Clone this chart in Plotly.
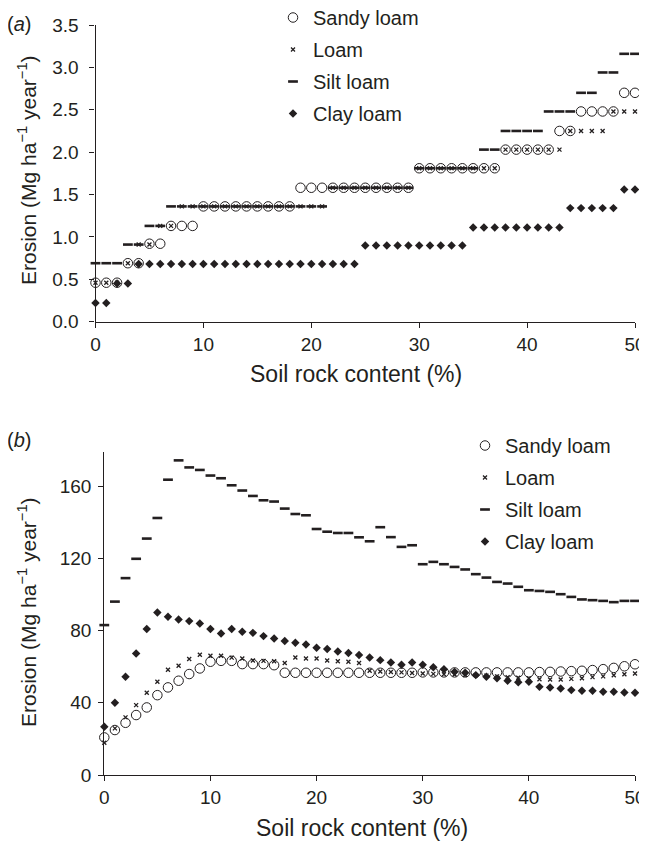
import plotly.graph_objects as go

# The page body has an 8px margin, so the figure is sized to the visible area
W, H = 639, 835
OFF = 8
INK = "#231f20"
FONT = "Liberation Sans, Arial, Helvetica, sans-serif"

rock = [0, 1, 2, 3, 4, 5, 6, 7, 8, 9, 10, 11, 12, 13, 14, 15, 16, 17, 18, 19, 20,
        21, 22, 23, 24, 25, 26, 27, 28, 29, 30, 31, 32, 33, 34, 35, 36, 37, 38, 39, 40,
        41, 42, 43, 44, 45, 46, 47, 48, 49, 50]

series_names = ["Sandy loam", "Loam", "Silt loam", "Clay loam"]

# Panel (a)
sandy_a = [0.46, 0.46, 0.46, 0.69, 0.69, 0.92, 0.92, 1.13, 1.13, 1.13,
           1.36, 1.36, 1.36, 1.36, 1.36, 1.36, 1.36, 1.36, 1.36, 1.58,
           1.58, 1.58, 1.58, 1.58, 1.58, 1.58, 1.58, 1.58, 1.58, 1.58,
           1.81, 1.81, 1.81, 1.81, 1.81, 1.81, 1.81, 1.81, 2.03, 2.03,
           2.03, 2.03, 2.03, 2.25, 2.25, 2.48, 2.48, 2.48, 2.48, 2.70, 2.70]
loam_a = [0.46, 0.46, 0.46, 0.69, 0.91, 0.91, 1.13, 1.13, 1.36, 1.36,
          1.36, 1.36, 1.36, 1.36, 1.36, 1.36, 1.36, 1.36, 1.36, 1.36,
          1.36, 1.36, 1.58, 1.58, 1.58, 1.58, 1.58, 1.58, 1.58, 1.58,
          1.81, 1.81, 1.81, 1.81, 1.81, 1.81, 1.81, 1.81, 2.03, 2.03,
          2.03, 2.03, 2.03, 2.03, 2.25, 2.25, 2.25, 2.25, 2.48, 2.48, 2.48]
silt_a = [0.69, 0.69, 0.69, 0.91, 0.91, 1.13, 1.13, 1.36, 1.36, 1.36,
          1.36, 1.36, 1.36, 1.36, 1.36, 1.36, 1.36, 1.36, 1.36, 1.36,
          1.36, 1.36, 1.58, 1.58, 1.58, 1.58, 1.58, 1.58, 1.58, 1.58,
          1.81, 1.81, 1.81, 1.81, 1.81, 1.81, 2.03, 2.03, 2.25, 2.25,
          2.25, 2.25, 2.48, 2.48, 2.48, 2.70, 2.70, 2.94, 2.94, 3.16, 3.16]
clay_a = [0.22, 0.22, 0.45, 0.45, 0.68, 0.68, 0.68, 0.68, 0.68, 0.68,
          0.68, 0.68, 0.68, 0.68, 0.68, 0.68, 0.68, 0.68, 0.68, 0.68,
          0.68, 0.68, 0.68, 0.68, 0.68, 0.90, 0.90, 0.90, 0.90, 0.90,
          0.90, 0.90, 0.90, 0.90, 0.90, 1.11, 1.11, 1.11, 1.11, 1.11,
          1.11, 1.11, 1.11, 1.11, 1.34, 1.34, 1.34, 1.34, 1.34, 1.56, 1.56]

# Panel (b)
sandy_b = [20.8, 24.9, 28.9, 33.2, 37.4, 44.2, 48.5, 52.2, 55.9, 59.0,
           62.7, 63.2, 63.2, 61.4, 61.4, 61.4, 60.8, 56.6, 56.6, 56.6,
           56.6, 56.6, 56.6, 56.6, 56.6, 56.6, 56.6, 56.6, 56.6, 56.6,
           56.8, 56.8, 56.8, 56.8, 56.8, 56.8, 56.8, 56.8, 56.8, 56.8,
           56.8, 57.0, 57.1, 57.3, 57.5, 57.7, 58.1, 58.6, 59.3, 60.2, 61.3]
loam_b = [17.9, 25.8, 31.9, 38.7, 45.5, 51.6, 58.3, 60.5, 64.2, 66.6,
          66.0, 66.0, 65.0, 64.5, 63.4, 63.2, 63.0, 62.0, 65.1, 64.5,
          64.5, 63.4, 63.0, 62.7, 62.0, 57.7, 57.3, 57.0, 56.8, 56.5,
          56.2, 56.0, 55.8, 55.6, 55.4, 55.2, 55.0, 54.6, 54.2, 53.8,
          53.4, 53.0, 52.9, 52.9, 53.2, 53.6, 54.2, 54.6, 55.2, 55.8, 56.2]
silt_b = [83.0, 96.0, 109.0, 119.7, 130.9, 142.3, 163.5, 174.2, 170.3, 168.9,
          165.8, 164.3, 160.4, 157.5, 154.5, 152.1, 151.4, 147.5, 144.5, 143.8,
          136.2, 134.7, 134.0, 134.0, 131.6, 129.4, 137.2, 131.7, 126.3, 127.2,
          116.7, 118.0, 116.7, 115.2, 113.8, 111.2, 109.3, 106.9, 106.0, 104.2,
          102.3, 101.9, 101.4, 100.1, 98.6, 97.2, 96.8, 96.4, 95.7, 96.4, 96.4]
clay_b = [26.7, 40.0, 54.4, 67.3, 80.8, 90.0, 87.6, 86.1, 85.2, 83.9,
          80.8, 78.4, 80.8, 79.3, 78.7, 76.9, 75.6, 74.2, 73.2, 72.2,
          70.4, 69.8, 68.4, 67.5, 66.4, 65.1, 63.6, 62.3, 61.0, 62.3,
          61.0, 59.6, 58.5, 57.1, 56.6, 55.3, 54.4, 53.5, 52.2, 51.3,
          51.6, 48.8, 48.5, 47.9, 47.0, 46.6, 46.6, 46.1, 46.1, 45.7, 45.5]

y_ticks_a = [0, 0.5, 1.0, 1.5, 2.0, 2.5, 3.0, 3.5]
y_ticks_b = [0, 40, 80, 120, 160]
x_ticks = [0, 10, 20, 30, 40, 50]

markers = [
    dict(symbol="circle-open", size=9.5, color=INK, line=dict(color=INK, width=1)),
    dict(symbol="x-thin", size=4, color=INK, line=dict(color=INK, width=1.3)),
    dict(symbol="line-ew", size=7, color=INK, line=dict(color=INK, width=2.6)),
    dict(symbol="diamond", size=6.5, color=INK, line=dict(color=INK, width=0)),
]

fig = go.Figure()
for i, (name, ya) in enumerate(zip(series_names, [sandy_a, loam_a, silt_a, clay_a])):
    fig.add_trace(go.Scatter(x=rock, y=ya, mode="markers", name=name, marker=markers[i],
                             xaxis="x", yaxis="y", legend="legend", legendgroup="a%d" % i,
                             cliponaxis=False))
for i, (name, yb) in enumerate(zip(series_names, [sandy_b, loam_b, silt_b, clay_b])):
    fig.add_trace(go.Scatter(x=rock, y=yb, mode="markers", name=name, marker=markers[i],
                             xaxis="x2", yaxis="y2", legend="legend2", legendgroup="b%d" % i,
                             cliponaxis=False))

def px(v):
    return (v - OFF) / W

def py(v):
    return 1 - (v - OFF) / H

axis_common = dict(showline=True, linecolor=INK, linewidth=1.2, ticks="outside",
                   ticklen=5, tickcolor=INK, tickwidth=1.2, showgrid=False, zeroline=False,
                   tickfont=dict(size=19, color=INK, family=FONT), fixedrange=True)

fig.update_layout(
    width=W, height=H,
    margin=dict(l=0, r=0, t=0, b=0, autoexpand=False),
    paper_bgcolor="white", plot_bgcolor="white",
    font=dict(family=FONT, color=INK),
    xaxis=dict(domain=[px(95.5), px(635)], range=[0, 50], tickvals=x_ticks, anchor="y", **axis_common),
    yaxis=dict(domain=[py(321.7), py(25)], range=[0, 3.5], tickvals=y_ticks_a, tickformat=".1f",
               anchor="x", ticklabelstandoff=7, **axis_common),
    xaxis2=dict(domain=[px(104.3), px(635)], range=[0, 50], tickvals=x_ticks, anchor="y2", **axis_common),
    yaxis2=dict(domain=[py(775), py(451.7)], range=[0, 179], tickvals=y_ticks_b, anchor="x2",
                ticklabelstandoff=3, **axis_common),
    legend=dict(x=px(273), y=py(-2), xanchor="left", yanchor="top", font=dict(size=20, color=INK),
                tracegroupgap=3, bgcolor="rgba(0,0,0,0)"),
    legend2=dict(x=px(465), y=py(426), xanchor="left", yanchor="top", font=dict(size=20, color=INK),
                 tracegroupgap=3, bgcolor="rgba(0,0,0,0)"),
    showlegend=True,
)

ytitle = "Erosion (Mg ha<sup>−1</sup> year<sup>−1</sup>)"
xtitle = "Soil rock content (%)"
ann = [
    dict(text=ytitle, x=px(27), y=py(170), textangle=-90, size=21),
    dict(text=ytitle, x=px(27), y=py(612), textangle=-90, size=21),
    dict(text=xtitle, x=px(356), y=py(374), size=23),
    dict(text=xtitle, x=px(362), y=py(828), size=23),
    dict(text="(<i>a</i>)", x=px(19), y=py(24), size=20),
    dict(text="(<i>b</i>)", x=px(19), y=py(440), size=20),
]
for a in ann:
    size = a.pop("size")
    fig.add_annotation(xref="paper", yref="paper", showarrow=False, xanchor="center", yanchor="middle",
                       font=dict(size=size, color=INK, family=FONT), **a)

fig.write_html("out.html")
